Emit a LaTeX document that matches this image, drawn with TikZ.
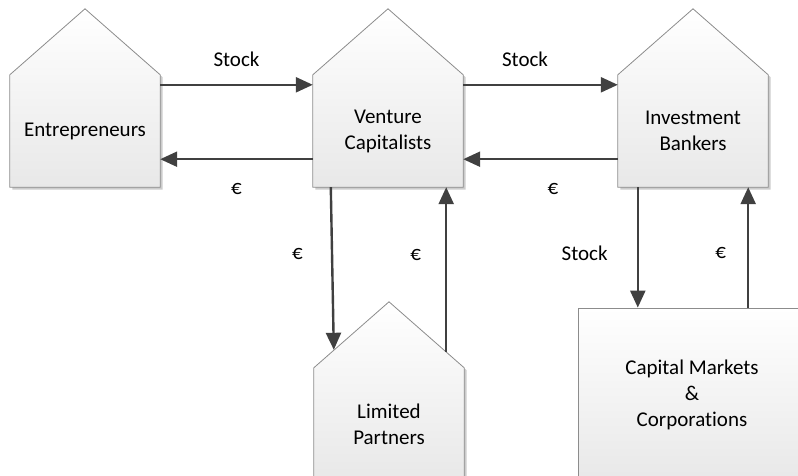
\documentclass[tikz,border=0pt]{standalone}
\usepackage{fontspec}
\setmainfont[Ligatures=NoCommon]{Carlito}
\usetikzlibrary{arrows.meta,shadows,backgrounds}
\begin{document}
\begin{tikzpicture}
    [x=1pt,y=-1pt,font=\fontsize{21}{26}\selectfont,
     house/.style={minimum width=150pt,minimum height=112pt,align=center,inner sep=0pt},
     roof/.style={draw=black!45,line width=0.8pt,top color=white,bottom color=black!9,
       drop shadow={shadow xshift=2.5pt,shadow yshift=-2.5pt,fill=black!20,opacity=1}},
     flow/.style={draw=black!75,line width=2.4pt,-{Triangle[length=17pt,width=15pt]}},
     lbl/.style={inner sep=2pt}]
  \useasboundingbox (0,0) rectangle (798,476);
  \node (ent) at (85,131) [house] {Entrepreneurs};
  \node (vc) at (388,131) [house] {Venture\\Capitalists};
  \node (ib) at (693,131) [house] {Investment\\Bankers};
  \node (lp) at (389,424) [house] {Limited\\Partners};
  \node (cm) at (692,395) [house,roof,minimum width=228pt,minimum height=174pt] {Capital Markets\\\&\\Corporations};
  \begin{scope}[on background layer]
    \foreach \h in {ent,vc,ib,lp}
      \path [roof] (\h.south west) -- (\h.north west) -- ([yshift=66pt]\h.north)
        -- (\h.north east) -- (\h.south east) -- cycle;
  \end{scope}
  % stock goes right, money comes back
  \draw [flow] ([yshift=-10pt]ent.north east) to node [lbl,above=15pt] {Stock} ([yshift=-10pt]vc.north west);
  \draw [flow] ([yshift=28pt]vc.south west) to node [lbl,below=21pt] {€} ([yshift=28pt]ent.south east);
  \draw [flow] ([yshift=-10pt]vc.north east) to node [lbl,above=15pt,pos=0.4] {Stock} ([yshift=-10pt]ib.north west);
  \draw [flow] ([yshift=28pt]ib.south west) to node [lbl,below=21pt,pos=0.42] {€} ([yshift=28pt]vc.south east);
  % funds
  \draw [flow] ([xshift=18pt]vc.south west) to node [lbl,left=26pt,pos=0.41] {€} ([xshift=20pt,yshift=18pt]lp.north west);
  \draw [flow] ([xshift=-18pt,yshift=16pt]lp.north east) to node [lbl,left=22pt,pos=0.59] {€} ([xshift=-17pt]vc.south east);
  % markets
  \draw [flow] ([xshift=20pt]ib.south west) to node [lbl,left=27pt,pos=0.55] {Stock} ([xshift=20pt]ib.south west |- cm.north);
  \draw [flow] ([xshift=-20pt]ib.south east |- cm.north) to node [lbl,left=19pt,pos=0.45] {€} ([xshift=-20pt]ib.south east);
\end{tikzpicture}
\end{document}
